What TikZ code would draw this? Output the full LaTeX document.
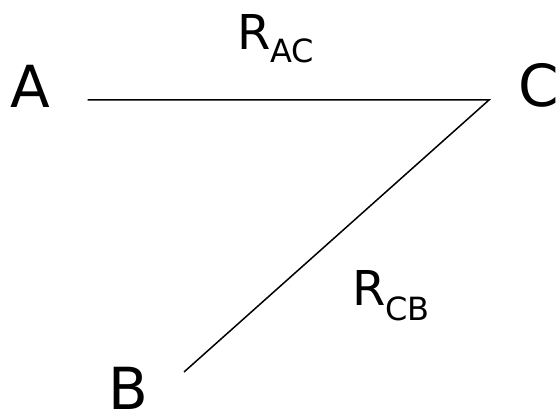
\documentclass[tikz,border=0pt]{standalone}
\usepackage{fontspec}
\setmainfont{DejaVu Sans}
\begin{document}
\begin{tikzpicture}[x=1pt,y=-1pt,
  big/.style={inner sep=0pt,anchor=base,font=\fontsize{58}{60}\selectfont},
  lbl/.style={inner sep=0pt,anchor=base west,font=\fontsize{48}{50}\selectfont},
  edge/.style={line width=1.5pt}]
\useasboundingbox (0,0) rectangle (559,414);
\node[big] (A) at (30.5,108) {A};
\node[big] (C) at (539,107) {C};
\node[big] (B) at (128,409.5) {B};
\node[lbl] (Rac) at (237,50) {R\raisebox{-13pt}{\fontsize{32}{34}\selectfont AC}};
\node[lbl] (Rcb) at (352,305) {R\raisebox{-15pt}{\fontsize{32}{34}\selectfont CB}};
\coordinate (a) at (87.5,100);
\coordinate (c) at (489,100);
\coordinate (b) at (184,372);
\draw[edge] (a) -- (c) -- (b);
\end{tikzpicture}
\end{document}
